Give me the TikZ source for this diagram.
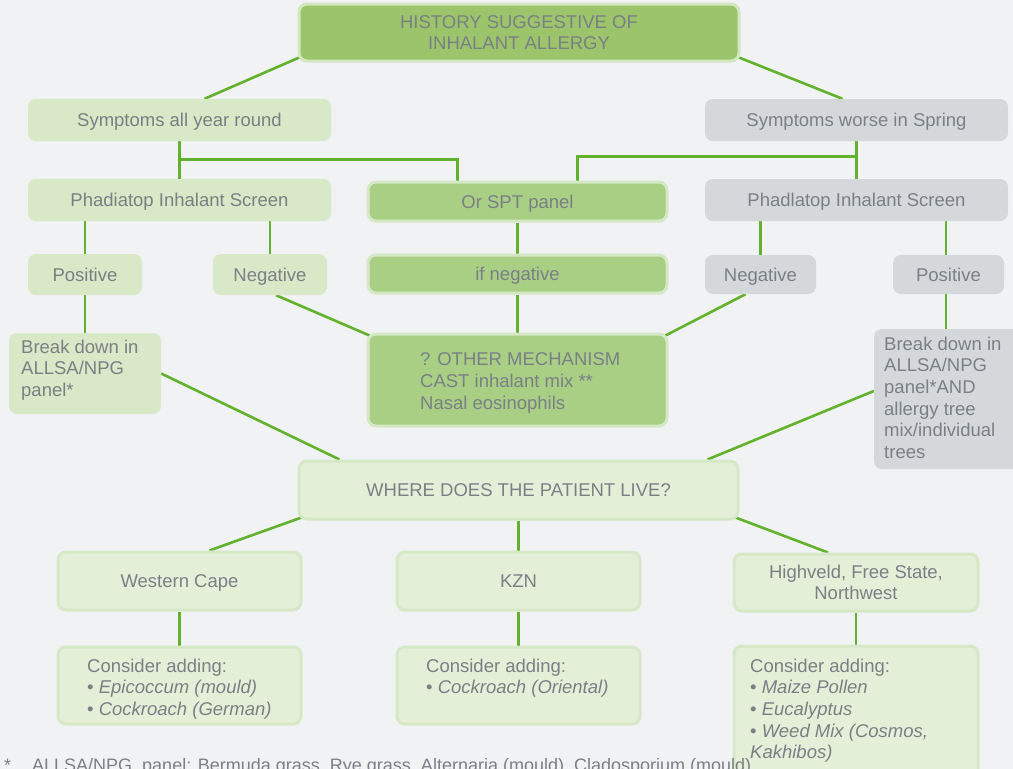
\documentclass[tikz,border=0pt]{standalone}
\usepackage{fontspec}
\setmainfont{Liberation Sans}
\usetikzlibrary{calc}
\pgfdeclarelayer{bg}
\pgfdeclarelayer{lines}
\pgfsetlayers{bg,lines,main}
\definecolor{bgc}{HTML}{F0F2F4}
\definecolor{linec}{HTML}{62B22E}
\definecolor{txtc}{HTML}{7B7F86}
\definecolor{darkf}{HTML}{9CC56B}
\definecolor{darkd}{HTML}{D3E6BF}
\definecolor{midf}{HTML}{A9CF85}
\definecolor{midd}{HTML}{D5E8C5}
\definecolor{lightf}{HTML}{D9E8C6}
\definecolor{palef}{HTML}{E4EFD8}
\definecolor{paled}{HTML}{D7E8C6}
\definecolor{greyf}{HTML}{D5D8DB}
\begin{document}
\begin{tikzpicture}[x=1pt,y=-1pt,
  base/.style={rounded corners=8pt, inner sep=0pt, text=txtc,
    font=\fontsize{18.5}{21.7}\selectfont, align=center},
  one/.style={text height=17pt, text depth=4pt},
  darkbox/.style={base, fill=darkf, draw=darkd, line width=3pt},
  midbox/.style={base, fill=midf, draw=midd, line width=3pt},
  lightbox/.style={base, fill=lightf},
  palebox/.style={base, fill=palef, draw=paled, line width=3pt},
  greybox/.style={base, fill=greyf},
  txt/.style={inner sep=0pt, text=txtc, font=\fontsize{18.5}{21.7}\selectfont, align=left, anchor=north west},
  conn/.style={draw=linec, line width=2.6pt}
]
\begin{pgfonlayer}{bg}
\fill[bgc] (0,0) rectangle (1013,769);
\end{pgfonlayer}
\useasboundingbox (0,0) rectangle (1013,769);

% row 0
\node[darkbox, minimum width=440, minimum height=57] (hist) at (519,32.5) {HISTORY SUGGESTIVE OF\\INHALANT ALLERGY};
% row 1
\node[lightbox, one, minimum width=303, minimum height=42] (year) at (179.5,120) {Symptoms all year round};
\node[greybox, one, minimum width=303, minimum height=42] (spring) at (856.5,120) {Symptoms worse in Spring};
% row 2
\node[lightbox, one, minimum width=303, minimum height=42] (phl) at (179.5,200) {Phadiatop Inhalant Screen};
\node[midbox, one, minimum width=299, minimum height=39] (spt) at (517.5,201.5) {Or SPT panel};
\node[greybox, one, minimum width=303, minimum height=42] (phr) at (856.5,200) {Phadlatop Inhalant Screen};
% row 3
\node[lightbox, one, minimum width=114, minimum height=41] (posl) at (85,274.5) {Positive};
\node[lightbox, one, minimum width=114, minimum height=41] (negl) at (270,274.5) {Negative};
\node[midbox, one, minimum width=299, minimum height=38] (ifneg) at (517.5,274) {if negative};
\node[greybox, one, minimum width=111, minimum height=39] (negr) at (760.5,274.5) {Negative};
\node[greybox, one, minimum width=111, minimum height=39] (posr) at (948.5,274.5) {Positive};
% row 4
\node[lightbox, minimum width=152, minimum height=81] (bdl) at (85,373.5) {};
\node[txt] at (21,339.5) {Break down in\\ALLSA/NPG\\panel*};
\node[midbox, minimum width=299, minimum height=92] (other) at (517.5,380) {};
\node[txt] at (420,352.5) {? OTHER MECHANISM\\CAST inhalant mix **\\Nasal eosinophils};
\node[greybox, minimum width=150, minimum height=140] (bdr) at (949,399) {};
\node[txt] at (884,336.5) {Break down in\\ALLSA/NPG\\panel*AND\\allergy tree\\mix/individual\\trees};
% row 5
\node[palebox, one, minimum width=439, minimum height=58] (where) at (518.5,490) {WHERE DOES THE PATIENT LIVE?};
% row 6
\node[palebox, one, minimum width=243, minimum height=58] (wc) at (179.5,581) {Western Cape};
\node[palebox, one, minimum width=243, minimum height=58] (kzn) at (518.5,581) {KZN};
\node[palebox, minimum width=244, minimum height=57] (hv) at (856,582.5) {Highveld, Free State,\\Northwest};
% row 7
\node[palebox, minimum width=243, minimum height=77] (cwc) at (179.5,685.5) {};
\node[txt] at (87,658.5) {Consider adding:\\\textbullet{} \textit{Epicoccum (mould)}\\\textbullet{} \textit{Cockroach (German)}};
\node[palebox, minimum width=243, minimum height=77] (ckzn) at (518.5,685.5) {};
\node[txt] at (426,658.5) {Consider adding:\\\textbullet{} \textit{Cockroach (Oriental)}};
\node[palebox, minimum width=244, minimum height=134] (chv) at (856,713) {};
\node[txt] at (750,658.5) {Consider adding:\\\textbullet{} \textit{Maize Pollen}\\\textbullet{} \textit{Eucalyptus}\\\textbullet{} \textit{Weed Mix (Cosmos,}\\\textit{Kakhibos)}};
% footnote
\node[inner sep=0pt, anchor=base west, text=txtc, font=\fontsize{18}{20}\selectfont] (fnstar) at (4,771) {*};
\node[inner sep=0pt, anchor=base west, text=txtc, font=\fontsize{18}{20}\selectfont] (fn) at (32,771) {ALLSA/NPG\ \ panel: Bermuda grass, Rye grass, Alternaria (mould), Cladosporium (mould),};

% connectors
\begin{pgfonlayer}{lines}
\draw[conn] ($(hist.south west)+(4,-6)$) -- ($(year.north)+(25,0)$);
\draw[conn] ($(hist.south east)+(-4,-6)$) -- ($(spring.north)+(-14,0)$);
\draw[conn] (year.south) -- (phl.north);
\draw[conn] ($(year.south)+(0,18)$) -| ($(spt.north)+(-60,0)$);
\draw[conn] (spring.south) -- (phr.north);
\draw[conn] ($(spring.south)+(0,15)$) -| ($(spt.north)+(60,0)$);
\draw[conn] (posl.north) -- (posl.north |- phl.south);
\draw[conn] (negl.north) -- (negl.north |- phl.south);
\draw[conn] (spt.south) -- (ifneg.north);
\draw[conn] (negr.north) -- (negr.north |- phr.south);
\draw[conn] ($(posr.north)+(-2.5,0)$) -- ($(posr.north |- phr.south)+(-2.5,0)$);
\draw[conn] (posl.south) -- (bdl.north);
\draw[conn] ($(negl.south)+(6,0)$) -- ($(other.north west)+(3,3)$);
\draw[conn] (ifneg.south) -- (other.north);
\draw[conn] ($(negr.south)+(-15,0)$) -- ($(other.north east)+(-3,3)$);
\draw[conn] ($(posr.south)+(-2.5,0)$) -- ($(posr.south |- bdr.north)+(-2.5,0)$);
\draw[conn] ($(bdl.east)+(0,0)$) -- ($(where.north west)+(42,0)$);
\draw[conn] ($(bdr.west)+(0,-8)$) -- ($(where.north east)+(-32,0)$);
\draw[conn] ($(where.south west)+(4,-3)$) -- ($(wc.north)+(30,0)$);
\draw[conn] (where.south) -- (kzn.north);
\draw[conn] ($(where.south east)+(-4,-3)$) -- ($(hv.north)+(-28,0)$);
\draw[conn] (wc.south) -- (cwc.north);
\draw[conn] (kzn.south) -- (ckzn.north);
\draw[conn] (hv.south) -- (chv.north);
\end{pgfonlayer}
\end{tikzpicture}
\end{document}
